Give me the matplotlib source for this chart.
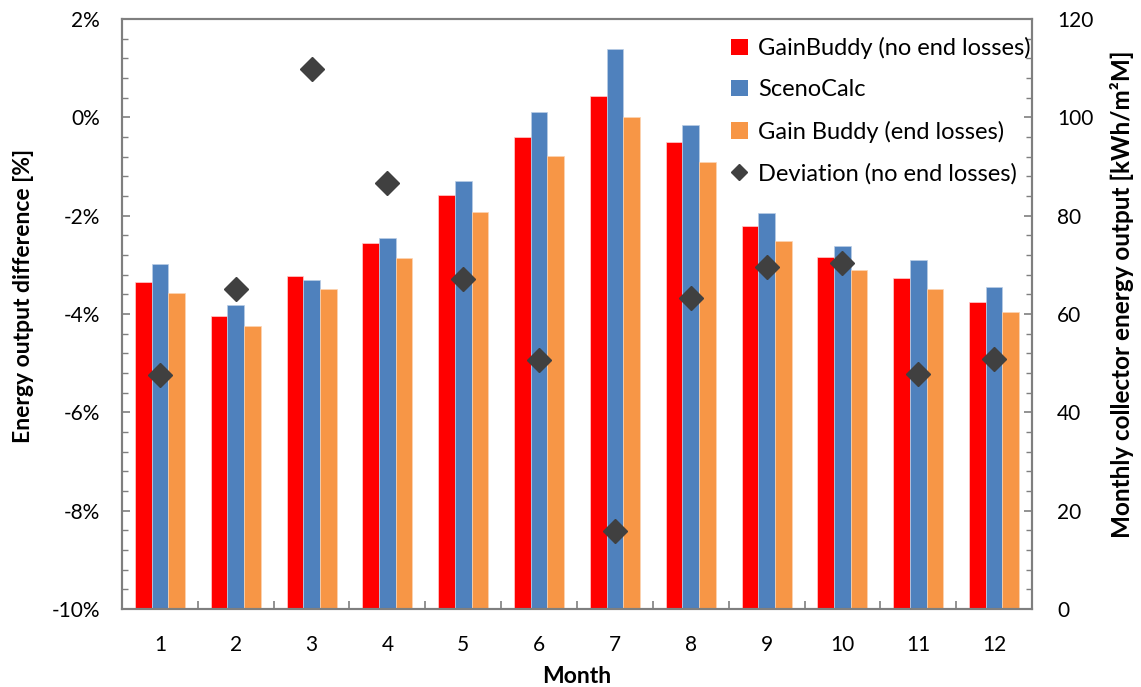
import numpy as np
import matplotlib
matplotlib.use("Agg")
from matplotlib import pyplot as plt
from matplotlib.lines import Line2D
from matplotlib.patches import Patch
from matplotlib.ticker import FuncFormatter, MultipleLocator

plt.rcParams['font.family'] = ['Lato', 'DejaVu Sans']

# data
months = [1, 2, 3, 4, 5, 6, 7, 8, 9, 10, 11, 12]
gain_no_end = [66.5, 59.6, 67.8, 74.4, 84.2, 96.1, 104.3, 94.9, 78.0, 71.5, 67.3, 62.4]
sceno = [70.1, 61.8, 67.0, 75.5, 87.0, 101.1, 113.9, 98.5, 80.5, 73.8, 70.9, 65.5]
gain_end = [64.3, 57.6, 65.1, 71.4, 80.7, 92.2, 100.1, 91.0, 74.9, 68.9, 65.0, 60.5]
deviation = [-5.24, -3.49, 0.98, -1.34, -3.29, -4.94, -8.41, -3.68, -3.05, -2.96, -5.21, -4.91]

c_red = "#FF0000"
c_blue = "#4F81BD"
c_orange = "#F79646"
c_dev = "#404040"
c_axis = "#7F7F7F"

fig = plt.figure(figsize=(11.41, 6.87), dpi=100)
ax = fig.add_axes([0.1069, 0.1135, 0.7976, 0.8588])
ax2 = ax.twinx()

x = np.arange(len(months))
w = 0.22
ax2.bar(x - w, gain_no_end, w, color=c_red, edgecolor="#FFD0D0", linewidth=0.5)
ax2.bar(x, sceno, w, color=c_blue, edgecolor="#B9CDE5", linewidth=0.5)
ax2.bar(x + w, gain_end, w, color=c_orange, edgecolor="#FCD5B4", linewidth=0.5)
ax2.set_ylim(0, 120)
ax2.yaxis.set_major_locator(MultipleLocator(20))
ax2.yaxis.set_minor_locator(MultipleLocator(4))

ax.plot(x, deviation, linestyle="none", marker="D", markersize=12, color=c_dev)
ax.set_ylim(-10, 2)
ax.yaxis.set_major_locator(MultipleLocator(2))
ax.yaxis.set_minor_locator(MultipleLocator(0.4))
ax.yaxis.set_major_formatter(FuncFormatter(lambda v, p: "%d%%" % round(v)))

# markers on top of bars
ax.set_zorder(ax2.get_zorder() + 1)
ax.patch.set_visible(False)

ax.set_xlim(-0.5, len(months) - 0.5)
ax.set_xticks(x)
ax.set_xticklabels([str(m) for m in months])
ax.set_xticks(np.arange(len(months) + 1) - 0.5, minor=True)
ax.tick_params(axis="x", which="major", length=0, pad=19, labelsize=15)
ax.tick_params(axis="x", which="minor", length=6, direction="in", color=c_axis, width=1.2)
ax.tick_params(axis="y", which="major", length=6, direction="in", color=c_axis, width=1.2, labelsize=15, pad=16)
ax.tick_params(axis="y", which="minor", length=4, direction="in", color=c_axis, width=1.0)
ax2.tick_params(axis="y", which="major", length=6, direction="in", color=c_axis, width=1.2, labelsize=15, pad=18)
ax2.tick_params(axis="y", which="minor", length=4, direction="in", color=c_axis, width=1.0)

for a in (ax, ax2):
    for s in a.spines.values():
        s.set_color(c_axis)
        s.set_linewidth(1.5)

ax.set_ylabel("Energy output difference [%]", fontsize=16.5, fontweight="bold")
ax.yaxis.set_label_coords(-0.097, 0.53)
ax2.set_ylabel("Monthly collector energy output [kWh/m²M]", fontsize=17.5, fontweight="bold")
ax2.yaxis.set_label_coords(1.086, 0.534)
ax.set_xlabel("Month", fontsize=16.5, fontweight="bold")
ax.xaxis.set_label_coords(0.5, -0.097)

handles = [
    Patch(facecolor=c_red, edgecolor="none"),
    Patch(facecolor=c_blue, edgecolor="none"),
    Patch(facecolor=c_orange, edgecolor="none"),
    Line2D([], [], linestyle="none", marker="D", markersize=8, color=c_dev),
]
labels = ["GainBuddy (no end losses)", "ScenoCalc", "Gain Buddy (end losses)", "Deviation (no end losses)"]
ax.legend(handles, labels, loc="upper right", frameon=False, fontsize=17,
          handlelength=0.7, handleheight=0.7, handletextpad=0.45, labelspacing=0.85,
          bbox_to_anchor=(1.009, 0.985), borderaxespad=0)

fig.savefig("out.png", dpi=100)
